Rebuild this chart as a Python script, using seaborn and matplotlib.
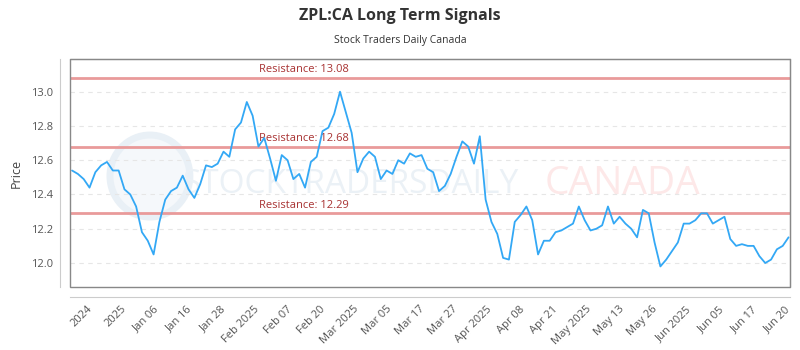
import numpy as np
import pandas as pd
import matplotlib.pyplot as plt
import matplotlib.transforms as mtransforms
from matplotlib.patches import Rectangle, Ellipse
import seaborn as sns

# daily closing prices
prices = [
    12.54, 12.52, 12.49, 12.44, 12.53, 12.57, 12.59, 12.54, 12.54, 12.43,
    12.40, 12.33, 12.18, 12.13, 12.05, 12.24, 12.37, 12.42, 12.44, 12.51,
    12.43, 12.38, 12.46, 12.57, 12.56, 12.58, 12.65, 12.62, 12.78, 12.82,
    12.94, 12.86, 12.68, 12.73, 12.61, 12.48, 12.63, 12.60, 12.49, 12.52,
    12.44, 12.59, 12.62, 12.77, 12.79, 12.87, 13.00, 12.88, 12.76, 12.53,
    12.61, 12.65, 12.62, 12.49, 12.54, 12.52, 12.60, 12.58, 12.64, 12.62,
    12.63, 12.55, 12.53, 12.42, 12.45, 12.52, 12.62, 12.71, 12.68, 12.58,
    12.74, 12.37, 12.24, 12.17, 12.03, 12.02, 12.24, 12.28, 12.33, 12.25,
    12.05, 12.13, 12.13, 12.18, 12.19, 12.21, 12.23, 12.33, 12.25, 12.19,
    12.20, 12.22, 12.33, 12.23, 12.27, 12.23, 12.20, 12.15, 12.31, 12.29,
    12.12, 11.98, 12.02, 12.07, 12.12, 12.23, 12.23, 12.25, 12.29, 12.29,
    12.23, 12.25, 12.27, 12.14, 12.10, 12.11, 12.10, 12.10, 12.04, 12.00,
    12.02, 12.08, 12.10, 12.15,
]

tick_labels = [
    "2024", "2025", "Jan 06", "Jan 16", "Jan 28", "Feb 2025", "Feb 07",
    "Feb 20", "Mar 2025", "Mar 05", "Mar 17", "Mar 27", "Apr 2025", "Apr 08",
    "Apr 21", "May 2025", "May 13", "May 26", "Jun 2025", "Jun 05", "Jun 17",
    "Jun 20",
]

resistance = [13.08, 12.68, 12.29]
y_ticks = [12.0, 12.2, 12.4, 12.6, 12.8, 13.0]

df = pd.DataFrame({"day": np.arange(len(prices)), "price": prices})

sns.set_style("white")
plt.rcParams["font.family"] = ["Open Sans", "DejaVu Sans"]

fig, ax = plt.subplots(figsize=(8, 3.5), dpi=100)
fig.subplots_adjust(left=0.0875, right=0.9875, top=0.831, bottom=0.18)

# offset light spines plus dark frame around the plot area
# (done before tick styling, since moving a spine resets the ticks)
for side in ["left", "bottom"]:
    ax.spines[side].set_position(("outward", 7))
    ax.spines[side].set_color("#cccccc")
for side in ["top", "right"]:
    ax.spines[side].set_color("#888888")
ax.add_patch(Rectangle((0, 0), 1, 1, transform=ax.transAxes, fill=False,
                       edgecolor="#888888", linewidth=1, clip_on=False, zorder=5))

# faint watermark
ax.add_patch(Ellipse((0.111, 0.487), 0.111, 0.36, transform=ax.transAxes,
                     facecolor="#f5f8fb", edgecolor="#e9f0f6", linewidth=5, zorder=0))
ax.text(0.389, 0.45, "STOCKTRADERSDAILY", transform=ax.transAxes,
        fontsize=24, color="#ebf1f6", ha="center", va="center", zorder=0)
ax.text(0.767, 0.45, "CANADA", transform=ax.transAxes, fontsize=28,
        color="#fde8e8", ha="center", va="center", zorder=0)

for y in y_ticks:
    ax.axhline(y, color="#e6e6e6", linewidth=0.8, linestyle=(0, (4, 4)), zorder=1)

trans = mtransforms.blended_transform_factory(ax.transAxes, ax.transData)
for r in resistance:
    ax.axhline(r, color="#e99a9a", linewidth=2, zorder=2)
    ax.text(0.2625, r + 0.015, f"Resistance: {r:.2f}", transform=trans,
            fontsize=8, color="#a83232", ha="left", va="bottom", zorder=3)

sns.lineplot(data=df, x="day", y="price", ax=ax, color="#33a8f5",
             linewidth=1.3, zorder=4)

ax.set_xlim(-0.35, len(prices) - 1 + 0.25)
ax.set_ylim(11.86, 13.19)
ax.set_yticks(y_ticks)
ax.set_yticklabels([f"{v:.1f}" for v in y_ticks], fontsize=8, color="#555555")
ax.set_xticks(np.linspace(2.6, len(prices) - 1.6, len(tick_labels)))
ax.set_xticklabels(tick_labels, rotation=45, ha="right", rotation_mode="anchor",
                   fontsize=8, color="#555555")
ax.tick_params(axis="both", length=0)
ax.tick_params(axis="y", pad=5)
ax.tick_params(axis="x", pad=5)
ax.set_xlabel("")
ax.set_ylabel("Price", fontsize=9, color="#444444", labelpad=6)

fig.text(0.5, 0.955, "ZPL:CA Long Term Signals", ha="center", va="center",
         fontsize=11.5, fontweight="bold", color="#333333")
fig.text(0.5, 0.885, "Stock Traders Daily Canada", ha="center", va="center",
         fontsize=7.5, color="#333333")

fig.savefig("out.png", dpi=100)
